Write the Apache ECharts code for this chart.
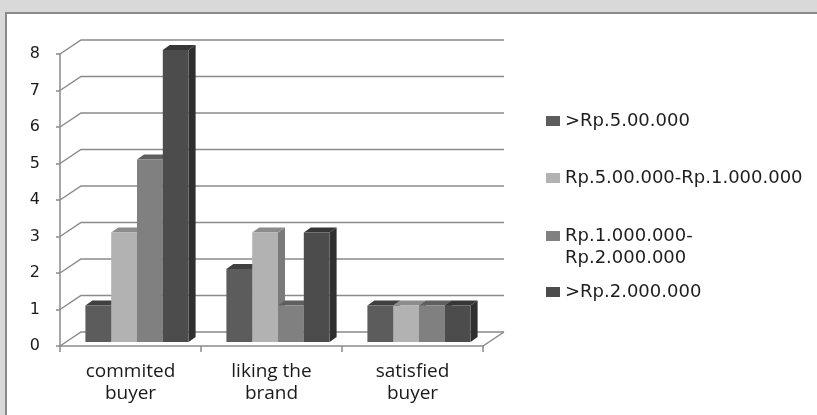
<!DOCTYPE html>
<html>
<head>
<meta charset="utf-8">
<title>Buyer segments by spending</title>
<script src="https://cdn.jsdelivr.net/npm/echarts@6/dist/echarts.min.js"></script>
<style>
  html, body { margin: 0; padding: 0; background: #d9d9d9; }
  #chart { width: 817px; height: 415px; }
</style>
</head>
<body>
<div id="chart"></div>
<script>
// Categories and values
const categories = ['commited\nbuyer', 'liking the\nbrand', 'satisfied\nbuyer'];
const seriesNames = ['>Rp.5.00.000', 'Rp.5.00.000-Rp.1.000.000', 'Rp.1.000.000-Rp.2.000.000', '>Rp.2.000.000'];
const over500k = [1, 2, 1];
const from500kTo1m = [3, 3, 1];
const from1mTo2m = [5, 1, 1];
const over2m = [8, 3, 1];
const yTicks = [0, 1, 2, 3, 4, 5, 6, 7, 8];

const seriesValues = [over500k, from500kTo1m, from1mTo2m, over2m];

// Face shades for the pseudo-3D columns: front, top, side
const shades = [
  { front: '#5c5c5c', top: '#404040', side: '#383838' },
  { front: '#b2b2b2', top: '#8c8c8c', side: '#7a7a7a' },
  { front: '#808080', top: '#5f5f5f', side: '#565656' },
  { front: '#4c4c4c', top: '#363636', side: '#2f2f2f' }
];

// Depth of the back wall and of the columns (screen px)
const WALL_DX = 21, WALL_DY = -14;
const BAR_DX = 7, BAR_DY = -5;
const BAR_SHIFT_X = 6.5, BAR_SHIFT_Y = -4;
const BAR_FRAC = 0.183;
const GRID_COLOR = '#8a8a8a';

function wallRender(params, api) {
  const cs = params.coordSys;
  const v = api.value(1);
  const y = api.coord([0, v])[1];
  const x0 = cs.x, x1 = cs.x + cs.width;
  const children = [{
    type: 'polyline',
    shape: { points: [[x0, y], [x0 + WALL_DX, y + WALL_DY], [x1 + WALL_DX, y + WALL_DY]] },
    style: { stroke: GRID_COLOR, lineWidth: 1.5, fill: null }
  }];
  if (v === 0) {
    children.push({
      type: 'line',
      shape: { x1: x1, y1: y, x2: x1 + WALL_DX, y2: y + WALL_DY },
      style: { stroke: GRID_COLOR, lineWidth: 1.5 }
    });
  }
  return { type: 'group', children: children };
}

function barRender(si) {
  return function (params, api) {
    const cat = api.value(0), v = api.value(1);
    const base = api.coord([cat, 0]);
    const top = api.coord([cat, v]);
    const band = api.size([1, 0])[0];
    const w = band * BAR_FRAC;
    const xl = base[0] - 2 * w + si * w + BAR_SHIFT_X;
    const xr = xl + w;
    const yb = base[1] + BAR_SHIFT_Y;
    const yt = top[1] + BAR_SHIFT_Y;
    const c = shades[si];
    return {
      type: 'group',
      children: [
        {
          type: 'polygon',
          shape: { points: [[xr, yb], [xr + BAR_DX, yb + BAR_DY], [xr + BAR_DX, yt + BAR_DY], [xr, yt]] },
          style: { fill: c.side }
        },
        {
          type: 'polygon',
          shape: { points: [[xl, yt], [xl + BAR_DX, yt + BAR_DY], [xr + BAR_DX, yt + BAR_DY], [xr, yt]] },
          style: { fill: c.top }
        },
        {
          type: 'rect',
          shape: { x: xl, y: yt, width: w, height: yb - yt },
          style: { fill: c.front }
        }
      ]
    };
  };
}

const barSeries = seriesNames.map(function (name, si) {
  return {
    name: name,
    type: 'custom',
    renderItem: barRender(si),
    encode: { x: 0, y: 1 },
    itemStyle: { color: shades[si].front },
    data: seriesValues[si].map(function (v, ci) { return [ci, v]; }),
    z: 3 + si
  };
});

const legendFont = { fontFamily: 'DejaVu Sans', fontSize: 18, color: '#1e1e1e', lineHeight: 22 };
function legendFor(name, top, extra) {
  return Object.assign({
    data: [name],
    orient: 'vertical',
    left: 546,
    top: top,
    padding: 0,
    icon: 'rect',
    itemWidth: 14,
    itemHeight: 10,
    selectedMode: false,
    textStyle: Object.assign({}, legendFont)
  }, extra || {});
}

const chart = echarts.init(document.getElementById('chart'));
chart.setOption({
  animation: false,
  backgroundColor: '#d9d9d9',
  graphic: [{
    type: 'rect',
    shape: { x: 6, y: 13, width: 830, height: 420 },
    style: { fill: '#ffffff', stroke: '#8a8a8a', lineWidth: 2 },
    z: -10
  }],
  grid: { left: 60, right: 334, top: 54, bottom: 69 },
  xAxis: {
    type: 'category',
    data: categories,
    boundaryGap: true,
    axisLine: { lineStyle: { color: GRID_COLOR, width: 1.5 } },
    axisTick: { show: true, length: 6, lineStyle: { color: GRID_COLOR, width: 1.5 } },
    axisLabel: {
      fontFamily: 'Open Sans', fontSize: 19, color: '#1a1a1a',
      lineHeight: 22, margin: 15
    },
    splitLine: { show: false }
  },
  yAxis: {
    type: 'value',
    min: 0, max: 8, interval: 1,
    axisLine: { show: true, lineStyle: { color: GRID_COLOR, width: 1.5 } },
    axisTick: { show: true, length: 4, lineStyle: { color: GRID_COLOR, width: 1.5 } },
    axisLabel: { fontFamily: 'DejaVu Sans', fontSize: 16, color: '#1a1a1a', margin: 20 },
    splitLine: { show: false }
  },
  legend: [
    legendFor(seriesNames[0], 110),
    legendFor(seriesNames[1], 167),
    // two-line entry: a blank first line keeps the swatch level with "Rp.1.000.000-"
    legendFor(seriesNames[2], 203, {
      formatter: function () { return '\nRp.1.000.000-\nRp.2.000.000'; }
    }),
    legendFor(seriesNames[3], 281)
  ],
  series: [{
    type: 'custom',
    name: 'wall',
    renderItem: wallRender,
    encode: { x: 0, y: 1 },
    data: yTicks.map(function (v) { return [0, v]; }),
    silent: true,
    z: 1
  }].concat(barSeries)
});
</script>
</body>
</html>
